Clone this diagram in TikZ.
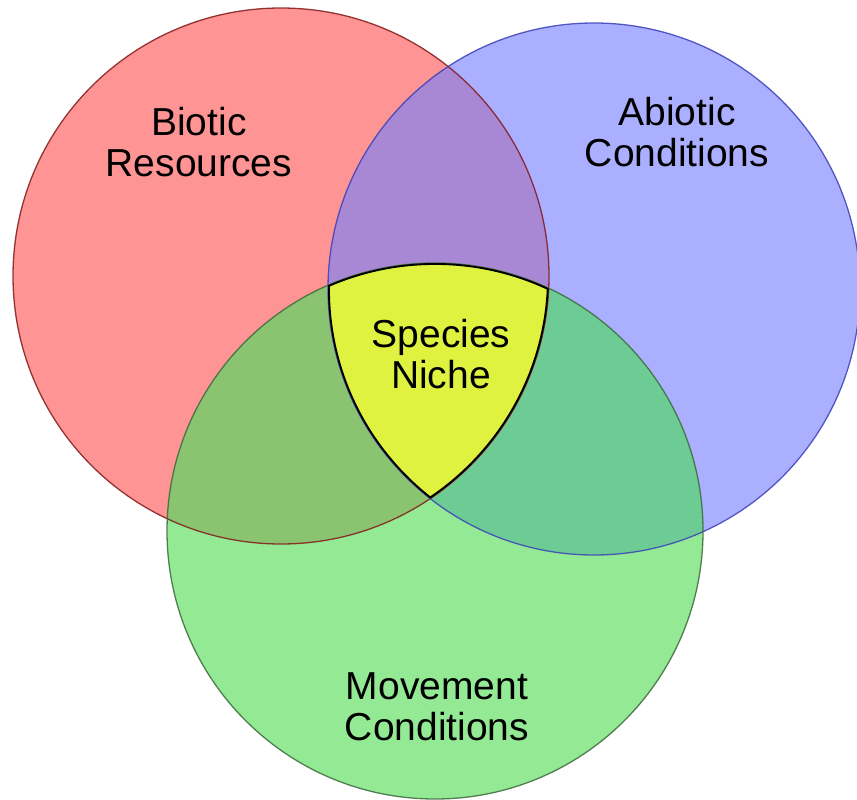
\documentclass[tikz,border=0pt]{standalone}
\usepackage{fontspec}
\setmainfont{Liberation Sans}
\definecolor{redfill}{RGB}{255,148,148}
\definecolor{bluefill}{RGB}{170,176,255}
\definecolor{greenfill}{RGB}{148,234,148}
\definecolor{rbfill}{RGB}{168,136,212}
\definecolor{rgfill}{RGB}{138,196,112}
\definecolor{bgfill}{RGB}{108,204,148}
\definecolor{nichefill}{RGB}{224,242,64}
\definecolor{redline}{RGB}{130,25,25}
\definecolor{blueline}{RGB}{60,64,185}
\definecolor{greenline}{RGB}{60,105,60}
\begin{document}
\begin{tikzpicture}[x=1pt,y=-1pt,
  vennlabel/.style={font=\fontsize{39}{41}\selectfont, align=center, inner sep=0pt, anchor=base},
  ring/.style={line width=1.3pt, draw opacity=0.85}]
\useasboundingbox (0,0) rectangle (857,800);
\coordinate (R) at (281,276);
\coordinate (B) at (594,289);
\coordinate (G) at (435,531);
% base fills
\fill[redfill] (R) circle[radius=268pt];
\fill[bluefill] (B) circle[radius=266pt];
\fill[greenfill] (G) circle[radius=268pt];
% pairwise overlaps
\begin{scope}
  \clip (R) circle[radius=268pt];
  \fill[rbfill] (B) circle[radius=266pt];
  \fill[rgfill] (G) circle[radius=268pt];
\end{scope}
\begin{scope}
  \clip (B) circle[radius=266pt];
  \fill[bgfill] (G) circle[radius=268pt];
  \begin{scope}
    \clip (R) circle[radius=268pt];
    \fill[nichefill] (G) circle[radius=268pt];
  \end{scope}
\end{scope}
% outlines
\draw[ring, redline] (R) circle[radius=268pt];
\draw[ring, blueline] (B) circle[radius=266pt];
\draw[ring, greenline] (G) circle[radius=268pt];
% niche outline
\begin{scope}
  \clip (R) circle[radius=268pt];
  \clip (B) circle[radius=266pt];
  \clip (G) circle[radius=268pt];
  \draw[black, line width=3.8pt] (R) circle[radius=268pt] (B) circle[radius=266pt] (G) circle[radius=268pt];
\end{scope}
% labels (anchor=base is the baseline of the last line)
\node[vennlabel] (biotic) at (199,176) {Biotic\\Resources};
\node[vennlabel] (abiotic) at (677,166) {Abiotic\\Conditions};
\node[vennlabel] (niche) at (441,388) {Species\\Niche};
\node[vennlabel] (movement) at (437,740) {Movement\\Conditions};
\end{tikzpicture}
\end{document}
